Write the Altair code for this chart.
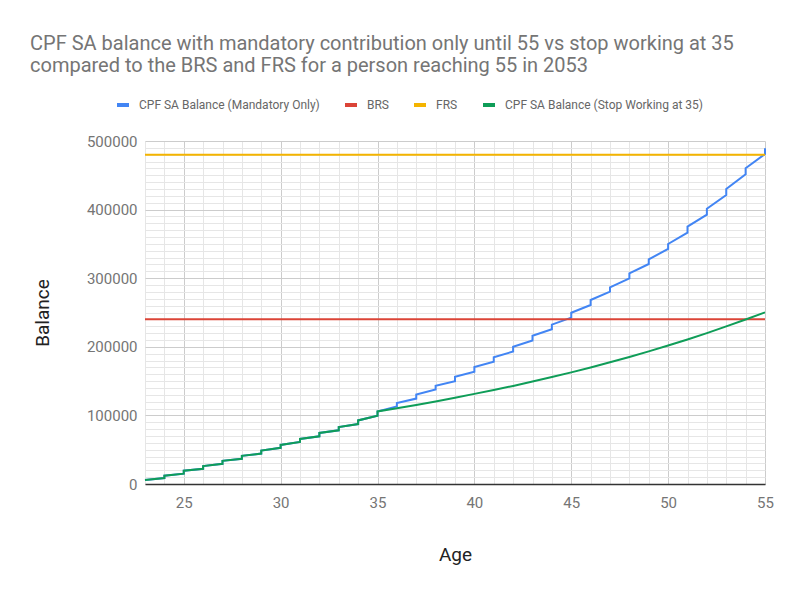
import altair as alt
import pandas as pd

title_lines = [
    "CPF SA balance with mandatory contribution only until 55 vs stop working at 35",
    "compared to the BRS and FRS for a person reaching 55 in 2053",
]
series_names = [
    "CPF SA Balance (Mandatory Only)",
    "BRS",
    "FRS",
    "CPF SA Balance (Stop Working at 35)",
]
series_colors = ["#4285F4", "#DB4437", "#F4B400", "#0F9D58"]

start_age = 23
start_balance = 5800
step_ages = list(range(24, 56))
blue_before_step = [8700, 15000, 22200, 29500, 36700, 44400, 52700, 61300, 69600, 78200,
                    87400, 99400, 113200, 124500, 137700, 150000, 163700, 178400, 193100,
                    209300, 225700, 242500, 260900, 280300, 299800, 320700, 342600, 366400,
                    392600, 421300, 451500, 481000]
blue_after_step = [12100, 19300, 26100, 33800, 41100, 48800, 57000, 65700, 74400, 83100,
                   92700, 105800, 118100, 130400, 143100, 156400, 170600, 184800, 200000,
                   216100, 232300, 249600, 268200, 286700, 307100, 327500, 349900, 375200,
                   401200, 430000, 460200, 489300]
stop_age = 35
green_ages = list(range(36, 56))
green_values = [110500, 115300, 120400, 125700, 131400, 137100, 143000, 149300, 155900,
                162700, 169900, 177400, 185200, 193300, 201800, 210700, 220000, 229700,
                239700, 250100]
brs_value = 240000
frs_value = 480000

x_domain = [23, 55]
y_domain = [0, 500000]
x_major = [25, 30, 35, 40, 45, 50, 55]
x_minor = list(range(23, 56))
y_major = list(range(0, 500001, 100000))
y_minor = list(range(0, 500001, 10000))

# build tables
blue_rows = [(start_age, start_balance)]
for a, b, c in zip(step_ages, blue_before_step, blue_after_step):
    blue_rows += [(a, b), (a, c)]
blue_df = pd.DataFrame(blue_rows, columns=["age", "value"])
blue_df["idx"] = range(len(blue_df))
blue_df["series"] = series_names[0]

green_rows = [(start_age, start_balance)]
for a, b, c in zip(step_ages, blue_before_step, blue_after_step):
    if a <= stop_age:
        green_rows += [(a, b), (a, c)]
green_rows += list(zip(green_ages, green_values))
green_df = pd.DataFrame(green_rows, columns=["age", "value"])
green_df["idx"] = range(len(green_df))
green_df["series"] = series_names[3]

brs_df = pd.DataFrame({"age": x_domain, "value": [brs_value] * 2, "idx": [0, 1],
                       "series": series_names[1]})
frs_df = pd.DataFrame({"age": x_domain, "value": [frs_value] * 2, "idx": [0, 1],
                       "series": series_names[2]})

xs = alt.Scale(domain=x_domain, nice=False, zero=False)
ys = alt.Scale(domain=y_domain, nice=False)
cs = alt.Scale(domain=series_names, range=series_colors)

minor_grid = alt.Chart(blue_df).mark_line(opacity=0).encode(
    x=alt.X("age:Q", scale=xs, axis=alt.Axis(values=x_minor, grid=True, gridColor="#e6e6e6",
            labels=False, ticks=False, domain=False, title=None, orient="bottom")),
    y=alt.Y("value:Q", scale=ys, axis=alt.Axis(values=y_minor, grid=True, gridColor="#e6e6e6",
            labels=False, ticks=False, domain=False, title=None, orient="left")),
)


def line_layer(df, with_axes=False):
    if with_axes:
        xa = alt.Axis(values=x_major, grid=True, gridColor="#cccccc", ticks=False,
                      domain=True, domainColor="#333333", domainWidth=1.5,
                      labelFont="Roboto", labelFontSize=15, labelColor="#757575",
                      labelPadding=11, labelFlush=False,
                      title="Age", titleFont="Roboto", titleFontSize=19,
                      titleFontWeight="normal", titleColor="#222222", titlePadding=35,
                      orient="bottom")
        ya = alt.Axis(values=y_major, grid=True, gridColor="#cccccc", ticks=False,
                      domain=False, format="d", labelFont="Roboto", labelFontSize=15,
                      labelColor="#757575", labelPadding=8, labelFlush=False,
                      title="Balance",
                      titleFont="Roboto", titleFontSize=19, titleFontWeight="normal",
                      titleColor="#222222", titlePadding=34, orient="left")
        leg = alt.Legend(title=None, orient="none", legendX=-30, legendY=-44,
                         direction="horizontal", symbolType="stroke", symbolSize=144,
                         symbolStrokeWidth=4, labelFont="Roboto", labelFontSize=12,
                         labelColor="#666666", columnPadding=17, labelOffset=8,
                         labelLimit=0)
    else:
        xa = None
        ya = None
        leg = None
    return alt.Chart(df).mark_line(strokeWidth=2).encode(
        x=alt.X("age:Q", scale=xs, axis=xa),
        y=alt.Y("value:Q", scale=ys, axis=ya),
        color=alt.Color("series:N", scale=cs, legend=leg),
        order="idx:Q",
    )


chart = alt.layer(
    minor_grid,
    line_layer(blue_df, with_axes=True),
    line_layer(brs_df),
    line_layer(frs_df),
    line_layer(green_df),
).resolve_axis(x="independent", y="independent").properties(
    width=620,
    height=343,
    padding={"left": 137, "top": 133, "right": 21, "bottom": 103},
    autosize=alt.AutoSizeParams(type="none"),
    title=alt.TitleParams(text=title_lines, anchor="start", frame="group", dx=-115,
                          offset=21, font="Roboto", fontSize=20, fontWeight="normal",
                          color="#757575", lineHeight=22),
).configure_view(stroke=None)

chart.save("out.html", embed_options={"renderer": "svg", "actions": False})
